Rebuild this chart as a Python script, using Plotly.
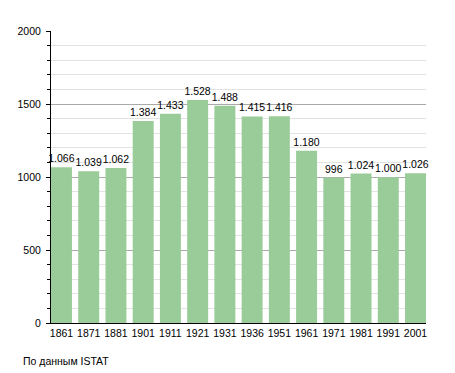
import plotly.graph_objects as go

years = ["1861", "1871", "1881", "1901", "1911", "1921", "1931", "1936",
         "1951", "1961", "1971", "1981", "1991", "2001"]
population = [1066, 1039, 1062, 1384, 1433, 1528, 1488, 1415, 1416, 1180,
              996, 1024, 1000, 1026]
y_ticks = [0, 500, 1000, 1500, 2000]
source_note = "По данным ISTAT"

FONT = "Liberation Sans, Arial, sans-serif"
FS = 10

# the page body has an 8px default margin, so the figure is drawn 8px smaller
fig_w, fig_h = 447, 365
ml, mr, mt, mb = 43, 29, 23, 50
plot_w = fig_w - ml - mr
plot_h = fig_h - mt - mb

fig = go.Figure()
fig.add_trace(go.Bar(
    x=years,
    y=population,
    marker=dict(color="#99cc99", line=dict(width=0)),
    texttemplate="%{y:,}",
    textposition="outside",
    textfont=dict(family=FONT, size=FS + 0.5, color="#000000"),
    cliponaxis=False,
    hoverinfo="skip",
))

fig.update_layout(
    width=fig_w,
    height=fig_h,
    margin=dict(l=ml, r=mr, t=mt, b=mb, autoexpand=False),
    paper_bgcolor="white",
    plot_bgcolor="white",
    bargap=0.23,
    separators=",.",
    showlegend=False,
    uniformtext=dict(minsize=FS + 0.5, mode="show"),
    font=dict(family=FONT, size=FS, color="#000000"),
    xaxis=dict(
        type="category",
        range=[-0.385, 13.385],
        showline=True,
        linecolor="#000000",
        linewidth=1,
        ticks="",
        showgrid=False,
        tickfont=dict(family=FONT, size=FS + 0.5, color="#000000"),
        fixedrange=True,
    ),
    yaxis=dict(
        range=[0, 2000],
        tickvals=y_ticks,
        showline=True,
        linecolor="#000000",
        linewidth=1,
        ticks="outside",
        ticklen=4,
        tickcolor="#000000",
        ticklabelstandoff=3,
        showgrid=True,
        gridcolor="#aaaaaa",
        gridwidth=1,
        zeroline=False,
        tickfont=dict(family=FONT, size=FS + 0.5, color="#000000"),
        minor=dict(
            dtick=100,
            ticks="outside",
            ticklen=3,
            tickcolor="#000000",
            showgrid=True,
            gridcolor="#e3e3e3",
            gridwidth=1,
        ),
        fixedrange=True,
    ),
    annotations=[dict(
        text=source_note,
        xref="paper", yref="paper",
        x=(13 - ml) / plot_w, y=(315 - 353) / plot_h,
        xanchor="left", yanchor="middle",
        showarrow=False,
        font=dict(family=FONT, size=FS + 0.5, color="#000000"),
    )],
)

fig.write_html("out.html")
